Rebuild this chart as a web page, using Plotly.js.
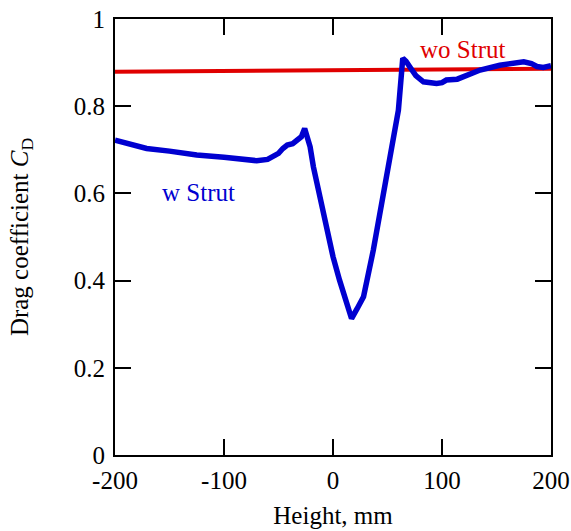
<!DOCTYPE html>
<html><head><meta charset="utf-8">
<script src="https://cdn.plot.ly/plotly-3.0.1.min.js"></script>
<style>body{margin:0;background:#fff}#c{width:571px;height:531px}</style>
</head><body><div id="c"></div>
<script>
const woX = [-200, -100, 0, 100, 200];
const woY = [0.879, 0.881, 0.883, 0.884, 0.886];
const wX = [-200, -185, -171, -150, -125, -100, -85, -70, -60, -55, -50, -46, -42, -37, -33, -29, -26, -23, -21, -18, -12, -6, 0, 6, 12, 17, 22, 28, 37, 46, 55, 60, 64, 67, 71, 76, 83, 90, 95, 100, 104, 114, 125, 135, 153, 165, 175, 182, 187, 193, 200];
const wY = [0.722, 0.713, 0.703, 0.697, 0.688, 0.683, 0.680, 0.675, 0.678, 0.684, 0.692, 0.703, 0.711, 0.714, 0.722, 0.730, 0.749, 0.728, 0.707, 0.661, 0.590, 0.516, 0.455, 0.401, 0.350, 0.313, 0.335, 0.363, 0.470, 0.592, 0.722, 0.791, 0.910, 0.903, 0.888, 0.870, 0.856, 0.852, 0.852, 0.854, 0.860, 0.862, 0.872, 0.883, 0.894, 0.898, 0.902, 0.898, 0.891, 0.889, 0.893];
const xTicks = [-200, -100, 0, 100, 200];
const yTicks = [0, 0.2, 0.4, 0.6, 0.8, 1];
const fnt = {family: 'Liberation Serif, Times New Roman, serif', size: 25, color: '#000'};
const data = [
  {x: woX, y: woY, mode: 'lines', line: {color: '#e00000', width: 4}, showlegend: false, hoverinfo: 'skip'},
  {x: wX, y: wY, mode: 'lines', line: {color: '#0000d0', width: 5.5}, showlegend: false, hoverinfo: 'skip'}
];
const ax = {showline: true, linewidth: 2, linecolor: '#000', mirror: 'ticks', ticks: 'inside', ticklen: 16, tickwidth: 2, tickcolor: '#000', showgrid: false, zeroline: false, tickfont: fnt};
const layout = {
  width: 571, height: 531,
  margin: {l: 115, r: 20, t: 19, b: 76},
  paper_bgcolor: '#fff', plot_bgcolor: '#fff',
  font: fnt,
  xaxis: Object.assign({}, ax, {range: [-200, 200], tickvals: xTicks, ticktext: xTicks.map(String), ticklabelstandoff: 2, title: {text: 'Height, mm', font: fnt, standoff: 13}}),
  yaxis: Object.assign({}, ax, {range: [0, 1], tickvals: yTicks, ticktext: yTicks.map(String), ticklabelstandoff: 3, title: {text: 'Drag coefficient <i>C</i><sub>D</sub>', font: fnt, standoff: 38}}),
  annotations: [
    {x: 119, y: 0.931, xref: 'x', yref: 'y', text: 'wo Strut', showarrow: false, font: {family: fnt.family, size: 25, color: '#e00000'}},
    {x: -123, y: 0.601, xref: 'x', yref: 'y', text: 'w Strut', showarrow: false, font: {family: fnt.family, size: 25, color: '#0000d0'}}
  ]
};
Plotly.newPlot('c', data, layout, {displayModeBar: false, staticPlot: true});
</script></body></html>
